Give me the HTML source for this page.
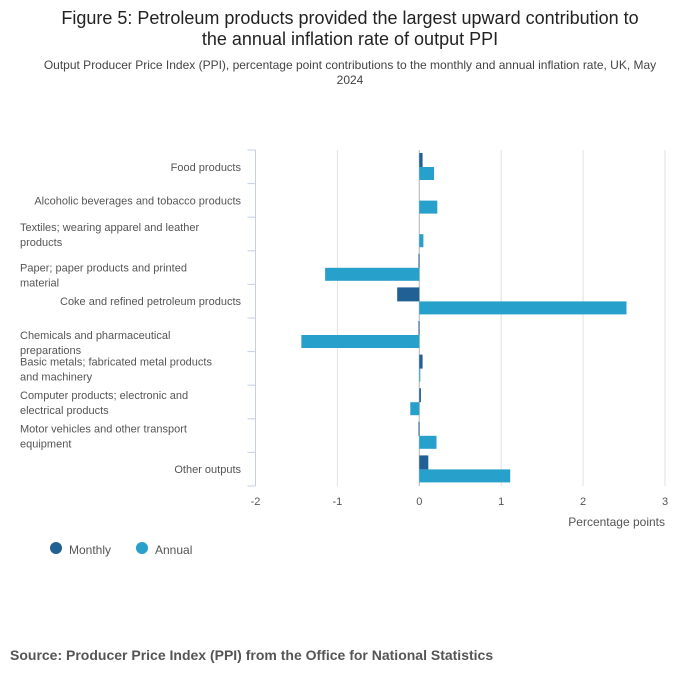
<!DOCTYPE html>
<html><head><meta charset="utf-8">
<style>
body{margin:0;background:#fff;font-family:"Liberation Sans",sans-serif;}
#wrap{position:relative;width:700px;height:682px;overflow:hidden;}
</style></head>
<body><div id="wrap">
<svg id="svg" width="700" height="682" xmlns="http://www.w3.org/2000/svg">
<text x="350" y="24" text-anchor="middle" font-size="18" fill="#222">Figure 5: Petroleum products provided the largest upward contribution to</text>
<text x="350" y="45" text-anchor="middle" font-size="18" fill="#222">the annual inflation rate of output PPI</text>
<text x="350" y="69" text-anchor="middle" font-size="12" fill="#444">Output Producer Price Index (PPI), percentage point contributions to the monthly and annual inflation rate, UK, May</text>
<text x="350" y="84" text-anchor="middle" font-size="12" fill="#444">2024</text>
<g id="grid"></g><g id="bars"></g><g id="labels"></g>
<text x="665" y="526" text-anchor="end" font-size="12" fill="#555">Percentage points</text>
<circle cx="56" cy="548" r="6" fill="#206095"/>
<text x="69" y="554" font-size="12" fill="#555">Monthly</text>
<circle cx="142" cy="548" r="6" fill="#27a0cc"/>
<text x="155" y="554" font-size="12" fill="#555">Annual</text>
<text x="10" y="660" font-size="14" font-weight="bold" fill="#555">Source: Producer Price Index (PPI) from the Office for National Statistics</text>
</svg></div>
<script>
const categories=[["Food products"],["Alcoholic beverages and tobacco products"],["Textiles; wearing apparel and leather","products"],["Paper; paper products and printed","material"],["Coke and refined petroleum products"],["Chemicals and pharmaceutical","preparations"],["Basic metals; fabricated metal products","and machinery"],["Computer products; electronic and","electrical products"],["Motor vehicles and other transport","equipment"],["Other outputs"]];
const monthly=[0.04,0,0,-0.01,-0.27,-0.01,0.04,0.02,-0.01,0.11];
const annual=[0.18,0.22,0.05,-1.15,2.53,-1.44,0.01,-0.11,0.21,1.11];
const xTicks=[-2,-1,0,1,2,3];
const NS="http://www.w3.org/2000/svg";
const x0=255.5,x1=665,plotTop=150,plotBottom=486,xmin=-2,xmax=3;
const labelShift={3:7,5:7};
const xs=v=>x0+(v-xmin)/(xmax-xmin)*(x1-x0);
const band=(plotBottom-plotTop)/categories.length;
function mk(tag,attrs,parent){const e=document.createElementNS(NS,tag);for(const k in attrs)e.setAttribute(k,attrs[k]);document.getElementById(parent).appendChild(e);return e;}
xTicks.forEach(t=>{
 const l=mk('line',{x1:xs(t),x2:xs(t),y1:plotTop,y2:plotBottom,stroke:t===xmin?'#c5cfe4':'#e2e2e2','stroke-width':1},'grid');
 
 
 const tx=mk('text',{x:xs(t),y:505,'text-anchor':'middle','font-size':11,fill:'#555'},'grid');tx.textContent=t;
 
 
});
for(let i=0;i<=categories.length;i++){
 const y=plotTop+i*band;
 const l=mk('line',{x1:x0-8,x2:x0,y1:y,y2:y,stroke:'#c5cfe4'},'grid');
 
 
}
categories.forEach((c,i)=>{
 const b=plotTop+i*band;
 const m=monthly[i],a=annual[i];
 const r1=mk('rect',{x:Math.min(xs(0),xs(m)),y:b+3,width:Math.max(Math.abs(xs(m)-xs(0)),m===0?0:1),height:14,fill:'#206095'},'bars');
 
 
 const r2=mk('rect',{x:Math.min(xs(0),xs(a)),y:b+17,width:Math.max(Math.abs(xs(a)-xs(0)),1),height:13,fill:'#27a0cc'},'bars');
 
 
 const mid=b+band/2+(labelShift[i]||0);
 if(c.length===1){
  const t=mk('text',{x:241,y:mid+4,'text-anchor':'end','font-size':11,fill:'#555'},'labels');t.textContent=c[0];
  
  
 }else{
  c.forEach((s,j)=>{
   const t=mk('text',{x:20,y:mid-3+j*15,'font-size':11,fill:'#555'},'labels');t.textContent=s;
   
   
  });
 }
});
const zl=mk('line',{x1:xs(0),x2:xs(0),y1:plotTop,y2:plotBottom,stroke:'#bbb','stroke-width':1},'grid');


</script>
</body></html>
